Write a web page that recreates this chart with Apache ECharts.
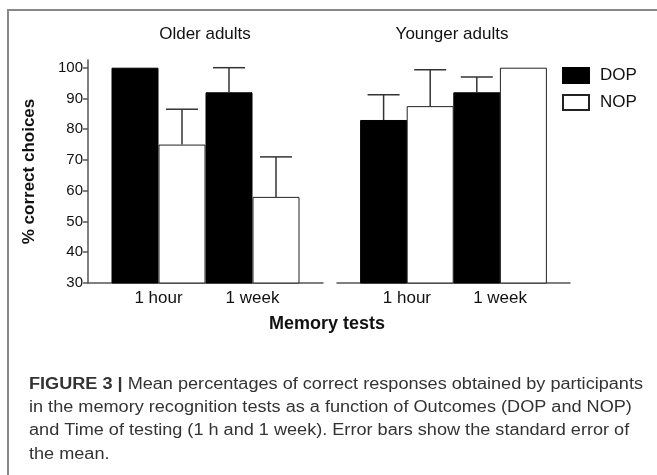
<!DOCTYPE html>
<html><head><meta charset="utf-8">
<script src="https://cdn.jsdelivr.net/npm/echarts@6/dist/echarts.min.js"></script>
<style>html,body{margin:0;padding:0;background:#fff}#c{width:657px;height:475px}</style>
</head><body><div id="c"></div>
<script>
// ---- data ----
const categories = ['1 hour', '1 week'];
const panels = ['Older adults', 'Younger adults'];
const seriesNames = ['DOP', 'NOP'];
const olderDOP = [100, 92];
const olderNOP = [75, 58];
const olderDOPerr = [0, 8];
const olderNOPerr = [11.5, 13];
const youngerDOP = [83, 92];
const youngerNOP = [87.5, 100];
const youngerDOPerr = [8.2, 5];
const youngerNOPerr = [11.8, 0];
const yTicks = [30, 40, 50, 60, 70, 80, 90, 100];
const yName = '% correct choices';
const xName = 'Memory tests';
const captionBold = 'FIGURE 3 |';
const captionLines = [
  ' Mean percentages of correct responses obtained by participants',
  'in the memory recognition tests as a function of Outcomes (DOP and NOP)',
  'and Time of testing (1 h and 1 week). Error bars show the standard error of',
  'the mean.'
];

const FONT = '"Liberation Sans", Arial, Helvetica, sans-serif';
const AXIS = '#555';
// group centres on the x value axis: 1.5, 3.5; bars at centre -/+ 0.5
const pos = (i, k) => 1.5 + 2 * i + (k === 0 ? -0.5 : 0.5);

function barData(vals, k) { return vals.map((v, i) => [pos(i, k), v]); }
function errData(vals, errs, k) { return vals.map((v, i) => [pos(i, k), v, errs[i]]); }

const chart = echarts.init(document.getElementById('c'));

function errRender(params, api) {
  const x = api.value(0), m = api.value(1), e = api.value(2);
  if (!e) return null;
  const p0 = api.coord([x, m]);
  const p1 = api.coord([x, m + e]);
  const half = 16;
  return {
    type: 'group',
    children: [
      { type: 'line', shape: { x1: p0[0], y1: p0[1], x2: p1[0], y2: p1[1] }, style: { stroke: '#333', lineWidth: 1.5 } },
      { type: 'line', shape: { x1: p1[0] - half, y1: p1[1], x2: p1[0] + half, y2: p1[1] }, style: { stroke: '#333', lineWidth: 1.5 } }
    ]
  };
}

const grids = [
  { left: 88, width: 235, top: 60, bottom: 192 },
  { left: 337, width: 233, top: 60, bottom: 192 }
];
const xAxes = grids.map((g, gi) => ({
  type: 'value', gridIndex: gi, min: 0, max: 5,
  axisLine: { show: true, lineStyle: { color: AXIS, width: 1.5 } },
  axisTick: { show: false },
  splitLine: { show: false },
  axisLabel: {
    customValues: categories.map((c, i) => 1.5 + 2 * i),
    formatter: v => categories[Math.round((v - 1.5) / 2)] || '',
    fontSize: 17, color: '#111', fontFamily: FONT, margin: 7
  }
}));
const yAxes = grids.map((g, gi) => ({
  type: 'value', gridIndex: gi, min: 30, max: 102.5,
  show: gi === 0,
  name: gi === 0 ? yName : '',
  nameLocation: 'middle', nameGap: 50, nameRotate: 90,
  nameTextStyle: { fontSize: 17, fontWeight: 'bold', color: '#111', fontFamily: FONT },
  axisLine: { show: true, lineStyle: { color: AXIS, width: 1.5 } },
  axisTick: { show: true, length: 5, customValues: yTicks, lineStyle: { color: AXIS, width: 1.5 } },
  splitLine: { show: false },
  axisLabel: { customValues: yTicks, fontSize: 15, color: '#111', fontFamily: FONT, margin: 5 }
}));

const dopStyle = { color: '#000', borderColor: '#000', borderWidth: 1 };
const nopStyle = { color: '#fff', borderColor: '#222', borderWidth: 1 };
const panelData = [
  [olderDOP, olderNOP, olderDOPerr, olderNOPerr],
  [youngerDOP, youngerNOP, youngerDOPerr, youngerNOPerr]
];
const series = [];
panelData.forEach((pd, gi) => {
  series.push({ name: seriesNames[0], type: 'bar', xAxisIndex: gi, yAxisIndex: gi, barWidth: 47, barGap: '-100%', itemStyle: dopStyle, data: barData(pd[0], 0), z: 2 });
  series.push({ name: seriesNames[1], type: 'bar', xAxisIndex: gi, yAxisIndex: gi, barWidth: 47, barGap: '-100%', itemStyle: nopStyle, data: barData(pd[1], 1), z: 2 });
  series.push({ type: 'custom', xAxisIndex: gi, yAxisIndex: gi, renderItem: errRender, data: errData(pd[0], pd[2], 0), z: 3 });
  series.push({ type: 'custom', xAxisIndex: gi, yAxisIndex: gi, renderItem: errRender, data: errData(pd[1], pd[3], 1), z: 3 });
});

// caption measurement for condensed look
const mc = document.createElement('canvas').getContext('2d');
const CAP_SIZE = 16;
mc.font = 'bold ' + CAP_SIZE + 'px ' + FONT;
const wb = mc.measureText(captionBold).width;
mc.font = CAP_SIZE + 'px ' + FONT;
const w1 = wb + mc.measureText(captionLines[0]).width;
const capScale = 614 / w1;
const capTop = 385.5, capStep = 23.2;
const captionEls = captionLines.map((t, i) => ({
  type: 'text', left: 29, top: capTop + i * capStep - 9, scaleX: capScale, originX: 0,
  style: {
    text: i === 0 ? '{b|' + captionBold + '}' + t : t,
    font: CAP_SIZE + 'px ' + FONT, fill: '#333',
    rich: { b: { fontWeight: 'bold', fontSize: CAP_SIZE, fontFamily: FONT, fill: '#333', color: '#333' } }
  }
}));

chart.setOption({
  animation: false,
  backgroundColor: '#fff',
  grid: grids,
  xAxis: xAxes,
  yAxis: yAxes,
  legend: {
    data: seriesNames, orient: 'vertical', left: 562, top: 67,
    itemWidth: 26, itemHeight: 15, itemGap: 10, padding: 0,
    icon: 'rect',
    textStyle: { fontSize: 17, color: '#111', fontFamily: FONT, padding: [0, 0, 0, 6] }
  },
  series: series,
  graphic: [
    { type: 'polyline', shape: { points: [[8, 475], [8, 10], [657, 10]] }, style: { stroke: '#888', lineWidth: 2, fill: null }, silent: true },
    { type: 'text', x: 205, y: 34, style: { text: panels[0], font: '17px ' + FONT, fill: '#111', align: 'center', verticalAlign: 'middle' } },
    { type: 'text', x: 452, y: 34, style: { text: panels[1], font: '17px ' + FONT, fill: '#111', align: 'center', verticalAlign: 'middle' } },
    { type: 'text', x: 327, y: 324, style: { text: xName, font: 'bold 18px ' + FONT, fill: '#111', align: 'center', verticalAlign: 'middle' } }
  ].concat(captionEls)
});
</script></body></html>
